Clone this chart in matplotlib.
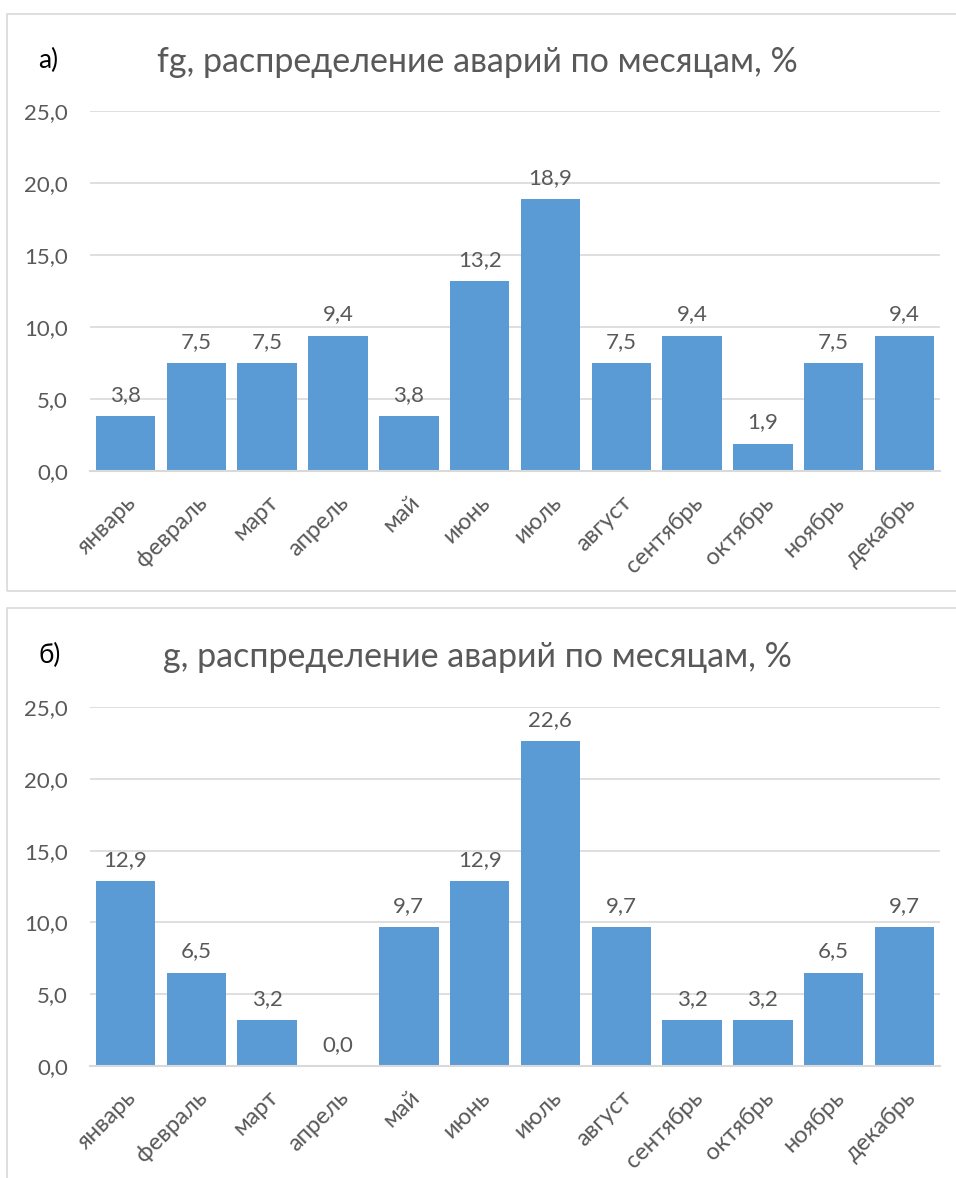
import matplotlib.pyplot as plt
from matplotlib.patches import Rectangle
from matplotlib.ticker import FuncFormatter

# Data
months = ['январь', 'февраль', 'март', 'апрель', 'май', 'июнь',
          'июль', 'август', 'сентябрь', 'октябрь', 'ноябрь', 'декабрь']
fg_values = [3.8, 7.5, 7.5, 9.4, 3.8, 13.2, 18.9, 7.5, 9.4, 1.9, 7.5, 9.4]
g_values = [12.9, 6.5, 3.2, 0.0, 9.7, 12.9, 22.6, 9.7, 3.2, 3.2, 6.5, 9.7]
titles = ['fg, распределение аварий по месяцам, %',
          'g, распределение аварий по месяцам, %']
panel_letters = ['а)', 'б)']

plt.rcParams['font.family'] = ['Lato', 'DejaVu Sans']

W, H = 956, 1178
BAR = '#5B9BD5'
TXT = '#595959'
GRID = '#D9D9D9'

fig = plt.figure(figsize=(W / 100, H / 100), dpi=100)


def px_rect(x0, y_top, x1, y_bot):
    # pixel box -> figure fraction [left, bottom, width, height]
    return [x0 / W, 1 - y_bot / H, (x1 - x0) / W, (y_bot - y_top) / H]


def comma(v, pos=None):
    return f'{v:.1f}'.replace('.', ',')


panels = [
    # frame box, axes box (pixels), title y, values
    dict(frame=(7, 14, 1000, 591), ax=(90, 111, 940, 471), ty=62, vals=fg_values),
    dict(frame=(7, 608, 1000, 1200), ax=(90, 707, 940, 1066), ty=657, vals=g_values),
]

for i, p in enumerate(panels):
    fx0, fy0, fx1, fy1 = p['frame']
    fig.patches.append(Rectangle((fx0 / W, 1 - fy1 / H), (fx1 - fx0) / W, (fy1 - fy0) / H,
                                 transform=fig.transFigure, fill=False,
                                 edgecolor=GRID, linewidth=1.2))

    ax = fig.add_axes(px_rect(*p['ax']))
    x = range(len(months))
    bars = ax.bar(x, p['vals'], width=0.84, color=BAR, zorder=3)
    ax.set_xlim(-0.5, len(months) - 0.5)
    ax.set_ylim(0, 25)
    ax.set_yticks([0, 5, 10, 15, 20, 25])
    ax.yaxis.set_major_formatter(FuncFormatter(comma))
    ax.grid(axis='y', color=GRID, linewidth=1.2, zorder=0)
    for s in ['top', 'right', 'left']:
        ax.spines[s].set_visible(False)
    ax.spines['bottom'].set_color(GRID)
    ax.spines['bottom'].set_linewidth(1.5)
    ax.spines['bottom'].set_zorder(4)
    ax.tick_params(axis='y', length=0, pad=16, labelsize=16, labelcolor=TXT)
    ax.tick_params(axis='x', length=0, pad=15, labelsize=17, labelcolor=TXT)
    ax.set_xticks(list(x))
    ax.set_xticklabels(months, rotation=45, ha='right', rotation_mode='anchor')

    for b, v in zip(bars, p['vals']):
        ax.annotate(comma(v), (b.get_x() + b.get_width() / 2, v),
                    xytext=(0, 8), textcoords='offset points',
                    ha='center', va='bottom', fontsize=16, color=TXT)

    fig.text(477 / W, 1 - p['ty'] / H, titles[i], ha='center', va='center',
             fontsize=24.5, color=TXT)
    fig.text(38 / W, 1 - (p['ty'] - 2) / H, panel_letters[i], ha='left', va='center',
             fontsize=19, color='black')

fig.savefig('out.png', dpi=100)
